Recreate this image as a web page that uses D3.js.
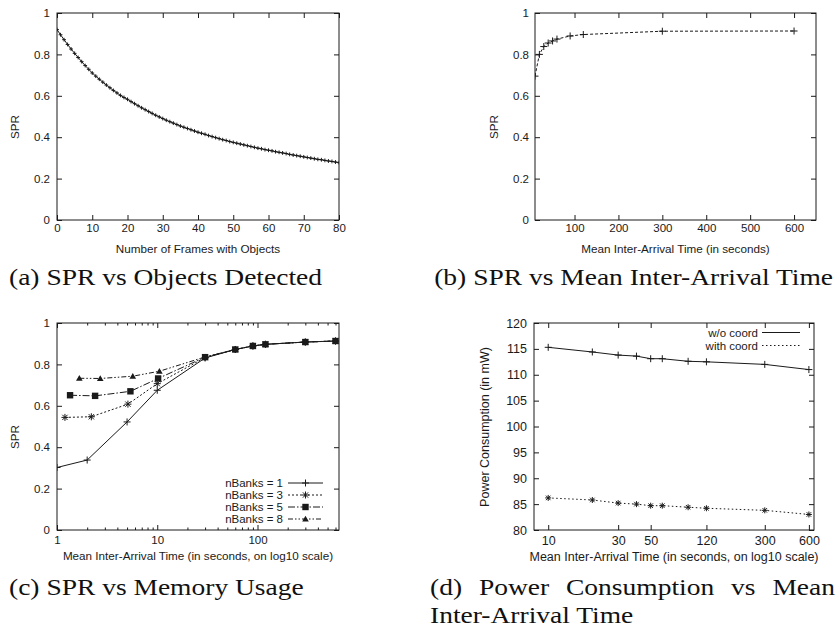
<!DOCTYPE html>
<html><head><meta charset="utf-8">
<script src="https://cdn.jsdelivr.net/npm/d3@7"></script>
<style>body{margin:0;background:#fff}svg{display:block}</style>
</head><body>
<svg id="chart" width="839" height="630"></svg>
<script>
// ---------------- DATA ----------------
// (a) SPR vs number of frames with objects
const framesA = [0,1,2,3,4,5,6,7,8,9,10,11,12,13,14,15,16,17,18,19,20,21,22,23,24,25,26,27,28,29,30,31,32,33,34,35,36,37,38,39,40,41,42,43,44,45,46,47,48,49,50,51,52,53,54,55,56,57,58,59,60,61,62,63,64,65,66,67,68,69,70,71,72,73,74,75,76,77,78,79,80];
const sprA = [0.920,0.895,0.871,0.848,0.826,0.805,0.785,0.765,0.746,0.728,0.710,0.695,0.680,0.666,0.652,0.639,0.626,0.614,0.602,0.592,0.583,0.572,0.562,0.552,0.542,0.533,0.524,0.515,0.506,0.498,0.490,0.482,0.475,0.468,0.461,0.454,0.448,0.442,0.436,0.430,0.424,0.419,0.414,0.408,0.403,0.398,0.393,0.388,0.384,0.379,0.375,0.371,0.367,0.363,0.359,0.355,0.351,0.347,0.344,0.340,0.337,0.334,0.330,0.327,0.324,0.321,0.317,0.314,0.311,0.308,0.305,0.302,0.299,0.296,0.293,0.291,0.288,0.285,0.283,0.280,0.277];

// (b) SPR vs mean inter-arrival time
const timeB = [10,20,30,40,50,60,90,120,300,600];
const sprB = [0.695,0.800,0.838,0.855,0.865,0.874,0.889,0.896,0.912,0.913];

// (c) SPR vs memory usage (log x)
const timeC1 = [1,2,5,10,30,60,90,120,300,600];
const sprC1 = [0.302,0.338,0.522,0.675,0.831,0.872,0.889,0.897,0.908,0.913];
const timeC3 = [1.2,2.2,5.1,10,30,60,90,120,300,600];
const sprC3 = [0.544,0.547,0.608,0.707,0.833,0.872,0.889,0.897,0.908,0.913];
const timeC5 = [1.35,2.4,5.4,10.2,30,60,90,120,300,600];
const sprC5 = [0.651,0.648,0.670,0.732,0.835,0.872,0.889,0.897,0.908,0.913];
const timeC8 = [1.67,2.7,5.7,10.5,30,60,90,120,300,600];
const sprC8 = [0.733,0.732,0.743,0.767,0.836,0.872,0.889,0.897,0.908,0.913];
const bankLabels = ["nBanks = 1","nBanks = 3","nBanks = 5","nBanks = 8"];

// (d) power consumption
const timeD = [10,20,30,40,50,60,90,120,300,600];
const powerWo = [115.3,114.4,113.8,113.6,113.1,113.1,112.6,112.5,112.0,111.0];
const powerWith = [86.2,85.8,85.2,85.0,84.7,84.7,84.4,84.2,83.8,83.0];
const coordLabels = ["w/o coord","with coord"];

// ticks
const ticksAx = [0,10,20,30,40,50,60,70,80];
const ticksSPR = [0,0.2,0.4,0.6,0.8,1];
const ticksBx = [100,200,300,400,500,600];
const ticksCx = [1,10,100];
const minorCx = [2,3,4,5,6,7,8,9,20,30,40,50,60,70,80,90,200,300,400,500,600];
const ticksDx = [10,30,50,120,300,600];
const ticksDy = [80,85,90,95,100,105,110,115,120];

// captions
const capA = "(a) SPR vs Objects Detected";
const capB = "(b) SPR vs Mean Inter-Arrival Time";
const capC = "(c) SPR vs Memory Usage";
const capD1 = ["(d)","Power","Consumption","vs","Mean"];
const capD2 = "Inter-Arrival Time";

// ---------------- DRAWING ----------------
const svg = d3.select("#chart");
const SANS = "'Liberation Sans', Arial, sans-serif";
const SERIF = "'Liberation Serif', 'Times New Roman', serif";
const INK = "#1a1a1a";

function styleAxis(g, fs) {
  g.select(".domain").remove();
  g.selectAll("line").attr("stroke", INK);
  g.selectAll("text").attr("font-family", SANS).attr("font-size", fs).attr("fill", INK);
  g.attr("font-family", null).attr("font-size", null);
}

function frame(x, y, o) {
  const [L, R] = x.range(), [B, T] = y.range();
  const tl = 5;
  svg.append("g").attr("transform", `translate(0,${B})`)
    .call(d3.axisBottom(x).tickValues(o.xt).tickFormat(o.xf).tickSizeInner(-tl).tickSizeOuter(0).tickPadding(o.xpad))
    .call(g => styleAxis(g, o.fs));
  svg.append("g").attr("transform", `translate(0,${T})`)
    .call(d3.axisTop(x).tickValues(o.xt).tickFormat("").tickSizeInner(-tl).tickSizeOuter(0))
    .call(g => styleAxis(g, o.fs));
  if (o.minor) {
    svg.append("g").attr("transform", `translate(0,${B})`)
      .call(d3.axisBottom(x).tickValues(o.minor).tickFormat("").tickSizeInner(-2.5).tickSizeOuter(0))
      .call(g => styleAxis(g, o.fs));
    svg.append("g").attr("transform", `translate(0,${T})`)
      .call(d3.axisTop(x).tickValues(o.minor).tickFormat("").tickSizeInner(-2.5).tickSizeOuter(0))
      .call(g => styleAxis(g, o.fs));
  }
  svg.append("g").attr("transform", `translate(${L},0)`)
    .call(d3.axisLeft(y).tickValues(o.yt).tickFormat(o.yf).tickSizeInner(-tl).tickSizeOuter(0).tickPadding(o.ypad))
    .call(g => styleAxis(g, o.fs));
  svg.append("g").attr("transform", `translate(${R},0)`)
    .call(d3.axisRight(y).tickValues(o.yt).tickFormat("").tickSizeInner(-tl).tickSizeOuter(0))
    .call(g => styleAxis(g, o.fs));
  svg.append("rect").attr("x", L).attr("y", T).attr("width", R - L).attr("height", B - T)
    .attr("fill", "none").attr("stroke", INK).attr("stroke-width", 1);
  // titles
  svg.append("text").attr("x", (L + R) / 2).attr("y", o.xtitleY).attr("text-anchor", "middle")
    .attr("font-family", SANS).attr("font-size", o.tfs).attr("fill", INK).text(o.xtitle);
  svg.append("text").attr("transform", `translate(${o.ytitleX},${o.ytitleCY}) rotate(-90)`)
    .attr("text-anchor", "middle").attr("dy", "0.35em")
    .attr("font-family", SANS).attr("font-size", o.tfs).attr("fill", INK).text(o.ytitle);
  const id = "clip" + Math.round(L) + "_" + Math.round(T);
  svg.append("clipPath").attr("id", id).append("rect")
    .attr("x", L).attr("y", T).attr("width", R - L).attr("height", B - T);
  return svg.append("g").attr("clip-path", `url(#${id})`);
}

// marker shapes
function plusPath(s) { return `M${-s},0H${s}M0,${-s}V${s}`; }
function starPath(s) { const d = s * 0.75; return `M${-s},0H${s}M0,${-s}V${s}M${-d},${-d}L${d},${d}M${-d},${d}L${d},${-d}`; }
function drawMarker(g, kind, cx, cy, s) {
  if (kind === "plus") g.append("path").attr("d", plusPath(s)).attr("transform", `translate(${cx},${cy})`).attr("stroke", INK).attr("stroke-width", 1).attr("fill", "none");
  else if (kind === "star") g.append("path").attr("d", starPath(s)).attr("transform", `translate(${cx},${cy})`).attr("stroke", INK).attr("stroke-width", 1).attr("fill", "none");
  else if (kind === "square") g.append("rect").attr("x", cx - s).attr("y", cy - s).attr("width", 2 * s).attr("height", 2 * s).attr("fill", INK);
  else if (kind === "tri") g.append("path").attr("d", `M${cx},${cy - s}L${cx + s},${cy + s * 0.75}L${cx - s},${cy + s * 0.75}Z`).attr("fill", INK);
}
function series(g, x, y, xs, ys, dash, marker, ms, lw) {
  const pts = xs.map((v, i) => [x(v), y(ys[i])]);
  g.append("path").attr("d", d3.line()(pts)).attr("fill", "none").attr("stroke", INK)
    .attr("stroke-width", lw || 1).attr("stroke-dasharray", dash || null);
  pts.forEach(p => drawMarker(g, marker, p[0], p[1], ms));
}

const fmtSPR = d => (d === 0 ? "0" : d === 1 ? "1" : d3.format(".1f")(d));

// ---- (a)
{
  const x = d3.scaleLinear().domain([0, 80]).range([57, 339]);
  const y = d3.scaleLinear().domain([0, 1]).range([220, 13]);
  const g = frame(x, y, { xt: ticksAx, yt: ticksSPR, xf: d3.format("d"), yf: fmtSPR, xpad: 4, ypad: 7, fs: 11.5, tfs: 11.7,
    xtitle: "Number of Frames with Objects", xtitleY: 253, ytitle: "SPR", ytitleX: 15, ytitleCY: 127 });
  series(g, x, y, framesA, sprA, null, "plus", 1.9, 1);
}
// ---- (b)
{
  const x = d3.scaleLinear().domain([10, 650]).range([535, 816]);
  const y = d3.scaleLinear().domain([0, 1]).range([220, 13]);
  const g = frame(x, y, { xt: ticksBx, yt: ticksSPR, xf: d3.format("d"), yf: fmtSPR, xpad: 4, ypad: 6, fs: 11.5, tfs: 11.7,
    xtitle: "Mean Inter-Arrival Time (in seconds)", xtitleY: 253, ytitle: "SPR", ytitleX: 494, ytitleCY: 127 });
  series(g, x, y, timeB, sprB, "3,2", "plus", 3.5);
}
// ---- (c)
{
  const x = d3.scaleLog().domain([1, 650]).range([57, 339]);
  const y = d3.scaleLinear().domain([0, 1]).range([530, 323]);
  const g = frame(x, y, { xt: ticksCx, minor: minorCx, yt: ticksSPR, xf: d3.format("d"), yf: fmtSPR, xpad: 6, ypad: 7, fs: 11.5, tfs: 11.7,
    xtitle: "Mean Inter-Arrival Time (in seconds, on log10 scale)", xtitleY: 560, ytitle: "SPR", ytitleX: 15, ytitleCY: 437 });
  const defs = [
    [timeC1, sprC1, null, "plus", 3.5],
    [timeC3, sprC3, "2,2", "star", 3.5],
    [timeC5, sprC5, "7,2,1.5,2", "square", 3.2],
    [timeC8, sprC8, "5,2,1.5,2,1.5,2", "tri", 3.3]
  ];
  defs.forEach(d => series(g, x, y, d[0], d[1], d[2], d[3], d[4]));
  const ly = d3.scalePoint().domain(bankLabels).range([483, 519]);
  bankLabels.forEach((lab, i) => {
    const yy = ly(lab);
    svg.append("text").attr("x", 283).attr("y", yy).attr("dy", "0.35em").attr("text-anchor", "end")
      .attr("font-family", SANS).attr("font-size", 11.5).attr("fill", INK).text(lab);
    svg.append("path").attr("d", `M288,${yy}H323`).attr("stroke", INK).attr("stroke-width", 1)
      .attr("stroke-dasharray", defs[i][2]);
    drawMarker(svg, defs[i][3], 305.5, yy, defs[i][4]);
  });
}
// ---- (d)
{
  const x = d3.scaleLog().domain([8, 650]).range([534, 814]);
  const y = d3.scaleLinear().domain([80, 120]).range([530, 323]);
  const g = frame(x, y, { xt: ticksDx, yt: ticksDy, xf: d3.format("d"), yf: d3.format("d"), xpad: 6, ypad: 7, fs: 12.5, tfs: 12.5,
    xtitle: "Mean Inter-Arrival Time (in seconds, on log10 scale)", xtitleY: 561, ytitle: "Power Consumption (in mW)", ytitleX: 485, ytitleCY: 427 });
  series(g, x, y, timeD, powerWo, null, "plus", 3.5);
  series(g, x, y, timeD, powerWith, "1.5,2.5", "star", 3);
  const ly = d3.scalePoint().domain(coordLabels).range([332.5, 345.5]);
  const dashes = [null, "1.5,2.5"];
  coordLabels.forEach((lab, i) => {
    const yy = ly(lab);
    svg.append("text").attr("x", 758).attr("y", yy).attr("dy", "0.35em").attr("text-anchor", "end")
      .attr("font-family", SANS).attr("font-size", 11.5).attr("fill", INK).text(lab);
    svg.append("path").attr("d", `M762,${yy}H800`).attr("stroke", INK).attr("stroke-width", 1)
      .attr("stroke-dasharray", dashes[i]);
  });
}

// ---- captions (serif, stretched horizontally to mimic Computer Modern)
const CFS = 24;
function cap(txt, x, yb, anchor) {
  return svg.append("text").attr("x", x).attr("y", yb).attr("text-anchor", anchor || "start")
    .attr("font-family", SERIF).attr("font-size", CFS).attr("fill", "#111").text(txt);
}
const tA = cap(capA, 9, 285);
const k = 313 / tA.node().getComputedTextLength();
function stretch(t) { const w = t.node().getComputedTextLength() * k; t.attr("textLength", w).attr("lengthAdjust", "spacingAndGlyphs"); return w; }
stretch(tA);
{
  const t = cap(capB, 0, 285); const w = stretch(t); t.attr("x", 833 - w);
}
stretch(cap(capC, 9, 595));
{
  const L = 430, R = 835;
  const ts = capD1.map(wd => cap(wd, 0, 595));
  const ws = ts.map(t => stretch(t));
  const gap = (R - L - d3.sum(ws)) / (ws.length - 1);
  let cx = L;
  ts.forEach((t, i) => { t.attr("x", cx); cx += ws[i] + gap; });
  stretch(cap(capD2, L, 623));
}
</script>
</body></html>
